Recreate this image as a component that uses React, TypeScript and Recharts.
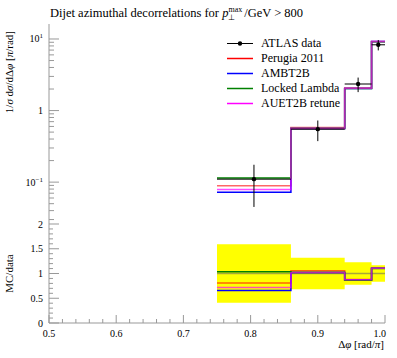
import React from 'react';
import { ComposedChart, Line, Scatter, Area, XAxis, YAxis, ErrorBar, Legend, Label } from 'recharts';

// histogram binning in delta phi [rad/pi]
const binEdges = [0.75, 0.86, 0.94, 0.98, 1.0];
const binCentres = [0.805, 0.9, 0.96, 0.99];

// ATLAS measurement and its uncertainty
const atlasData = [0.11, 0.55, 2.35, 8.3];
const atlasErr = [0.065, 0.176, 0.54, 1.37];

// MC predictions
const perugia2011 = [0.089, 0.58, 2.07, 9.2];
const ambt2b = [0.072, 0.56, 2.04, 9.2];
const lockedLambda = [0.114, 0.56, 2.03, 9.15];
const auet2bRetune = [0.079, 0.56, 2.05, 9.2];

// axis ticks
const xTicks = [0.5, 0.52, 0.54, 0.56, 0.58, 0.6, 0.62, 0.64, 0.66, 0.68, 0.7, 0.72, 0.74, 0.76, 0.78, 0.8,
  0.82, 0.84, 0.86, 0.88, 0.9, 0.92, 0.94, 0.96, 0.98, 1.0];
const xLabels = ['0.5', '0.6', '0.7', '0.8', '0.9', '1.0'];
const yMainTicks = [0.03, 0.04, 0.05, 0.06, 0.07, 0.08, 0.09, 0.1, 0.2, 0.3, 0.4, 0.5, 0.6, 0.7, 0.8, 0.9,
  1, 2, 3, 4, 5, 6, 7, 8, 9, 10];
const ratioTicks = [0, 0.1, 0.2, 0.3, 0.4, 0.5, 0.6, 0.7, 0.8, 0.9, 1, 1.1, 1.2, 1.3, 1.4, 1.5, 1.6, 1.7,
  1.8, 1.9, 2];
const ratioLabels = ['0', '0.5', '1', '1.5', '2'];

const FONT = '"Liberation Serif", serif';
const FRAME = '#999';

// draw order: red under blue/green, magenta semi-transparent on top
const mcSeries = [
  { name: 'Perugia 2011', values: perugia2011, color: '#ff0000', opacity: 0.6 },
  { name: 'AMBT2B', values: ambt2b, color: '#0000ff', opacity: 1 },
  { name: 'Locked Lambda', values: lockedLambda, color: '#008000', opacity: 1 },
  { name: 'AUET2B retune', values: auet2bRetune, color: '#ff00ff', opacity: 0.7 },
];
const legendItems = [
  { name: 'ATLAS data', color: '#000', marker: true },
  { name: 'Perugia 2011', color: '#ff0000', marker: false },
  { name: 'AMBT2B', color: '#0000ff', marker: false },
  { name: 'Locked Lambda', color: '#008000', marker: false },
  { name: 'AUET2B retune', color: '#ff00ff', marker: false },
];

const last = binCentres.length - 1;
const stepData = (vals: number[]) => binEdges.map((x, i) => ({ x, v: vals[Math.min(i, last)] }));
const ratioData = (vals: number[]) =>
  binEdges.map((x, i) => ({ x, v: vals[Math.min(i, last)] / atlasData[Math.min(i, last)] }));
const bandData = binEdges.map((x, i) => {
  const k = Math.min(i, last);
  const r = atlasErr[k] / atlasData[k];
  return { x, band: [1 - r, 1 + r] };
});
const unityData = binEdges.map((x) => ({ x, v: 1 }));
const dataPoints = binCentres.map((x, i) => ({
  x,
  y: atlasData[i],
  yErr: atlasErr[i],
  xErr: [x - binEdges[i], binEdges[i + 1] - x],
}));

const near = (a: number, b: number) => Math.abs(a - b) < 1e-6;

const renderXTick = (side: 'top' | 'bottom', withLabels: boolean) => (p: any) => {
  const v = p.payload.value;
  const major = near(v * 10, Math.round(v * 10));
  const len = major ? 8 : 4;
  const dir = side === 'bottom' ? -1 : 1;
  const isLast = near(v, 1);
  return (
    <g>
      <line x1={p.x} x2={p.x} y1={p.y} y2={p.y + dir * len} stroke={FRAME} />
      {withLabels && major && xLabels.includes(v.toFixed(1)) ? (
        <text x={isLast ? p.x + 1 : p.x} y={p.y + 14} textAnchor={isLast ? 'end' : 'middle'} fontSize={10}
          fontFamily={FONT} fill="#000">
          {v.toFixed(1)}
        </text>
      ) : null}
    </g>
  );
};

const renderLogTick = (side: 'left' | 'right') => (p: any) => {
  const v = p.payload.value;
  const lg = Math.log10(v);
  const major = near(lg, Math.round(lg));
  const len = major ? 10 : 5;
  const dir = side === 'left' ? 1 : -1;
  let label: React.ReactNode = null;
  if (side === 'left' && major) {
    const e = Math.round(lg);
    label = (
      <text x={p.x - 6} y={p.y + 3.5} textAnchor="end" fontSize={10} fontFamily={FONT} fill="#000">
        {e === 0 ? '1' : (
          <>
            <tspan>10</tspan>
            <tspan dy={-4} fontSize={7}>{e === 1 ? '1' : '\u22121'}</tspan>
          </>
        )}
      </text>
    );
  }
  return (
    <g>
      <line x1={p.x} x2={p.x + dir * len} y1={p.y} y2={p.y} stroke={FRAME} />
      {label}
    </g>
  );
};

const renderRatioTick = (side: 'left' | 'right') => (p: any) => {
  const v = p.payload.value;
  const major = near(v * 2, Math.round(v * 2));
  const len = major ? 10 : 4;
  const dir = side === 'left' ? 1 : -1;
  const txt = String(v);
  return (
    <g>
      <line x1={p.x} x2={p.x + dir * len} y1={p.y} y2={p.y} stroke={FRAME} />
      {side === 'left' && major && ratioLabels.includes(txt) ? (
        <text x={p.x - 6} y={p.y + 3.5} textAnchor="end" fontSize={10} fontFamily={FONT} fill="#000">
          {txt}
        </text>
      ) : null}
    </g>
  );
};

const DataDot = (p: any) => <circle cx={p.cx} cy={p.cy} r={2.2} fill="#000" />;

const LegendBox = () => (
  <div style={{ fontFamily: FONT, fontSize: 12, lineHeight: '15px' }}>
    {legendItems.map((it) => (
      <div key={it.name} style={{ display: 'flex', alignItems: 'center', height: 15, whiteSpace: 'nowrap' }}>
        <svg width={34} height={15} style={{ flex: 'none' }}>
          <line x1={0} x2={26} y1={7.5} y2={7.5} stroke={it.color} strokeWidth={it.marker ? 1 : 1.5} />
          {it.marker ? <circle cx={13} cy={7.5} r={2.2} fill="#000" /> : null}
        </svg>
        <span>{it.name}</span>
      </div>
    ))}
  </div>
);

const axisCommon = {
  tickSize: 0,
  tickMargin: 0,
  tickLine: false,
  interval: 0 as const,
  allowDataOverflow: true,
  axisLine: { stroke: FRAME },
};

export default function App() {
  return (
    <div style={{ position: 'absolute', left: 0, top: 0, width: 397, height: 358, background: '#fff' }}>
      <div style={{ position: 'absolute', left: 0, top: 0 }}>
        <ComposedChart width={397} height={232} margin={{ top: 24, right: 12, bottom: 8, left: 0 }}>
          <XAxis xAxisId="b" dataKey="x" type="number" domain={[0.5, 1]} ticks={xTicks} height={0}
            tick={renderXTick('bottom', false)} {...axisCommon} />
          <XAxis xAxisId="t" orientation="top" dataKey="x" type="number" domain={[0.5, 1]} ticks={xTicks}
            height={0} tick={renderXTick('top', false)} {...axisCommon} />
          <YAxis yAxisId="l" scale="log" domain={[0.026, 16.2]} ticks={yMainTicks} width={49}
            tick={renderLogTick('left')} {...axisCommon}>
            <Label content={() => (
              <g>
                <text x={13} y={31} transform="rotate(-90 13 31)" textAnchor="end" fontSize={11} fontFamily={FONT} fill="#000">
                  1/<tspan fontStyle="italic">{'\u03c3'}</tspan> d<tspan fontStyle="italic">{'\u03c3'}</tspan>/dΔ<tspan fontStyle="italic">{'\u03c6'}</tspan> [<tspan fontStyle="italic">{'\u03c0'}</tspan>/rad]
                </text>
                <text x={50} y={17} fontSize={12.5} fontFamily={FONT} fill="#000">
                  Dijet azimuthal decorrelations for{' '}
                  <tspan fontStyle="italic">p</tspan>
                  <tspan dy={-5} fontSize={8}>max</tspan>
                  <tspan dx={-14} dy={8} fontSize={8}>{'\u22a5'}</tspan>
                  <tspan dx={9} dy={-3}>/GeV &gt; 800</tspan>
                </text>
              </g>
            )} />
          </YAxis>
          <YAxis yAxisId="r" orientation="right" scale="log" domain={[0.026, 16.2]} ticks={yMainTicks} width={0}
            tick={renderLogTick('right')} {...axisCommon} />
          {mcSeries.map((s) => (
            <Line key={s.name} xAxisId="b" yAxisId="l" data={stepData(s.values)} dataKey="v" type="stepAfter"
              stroke={s.color} strokeOpacity={s.opacity} strokeWidth={1.5} dot={false} activeDot={false}
              isAnimationActive={false} legendType="none" />
          ))}
          <Scatter xAxisId="b" yAxisId="l" data={dataPoints} dataKey="y" shape={DataDot} isAnimationActive={false}
            legendType="none">
            <ErrorBar dataKey="yErr" direction="y" width={0} stroke="#000" strokeWidth={1} isAnimationActive={false} />
            <ErrorBar dataKey="xErr" direction="x" width={0} stroke="#000" strokeWidth={1} isAnimationActive={false} />
          </Scatter>
          <Legend layout="vertical" align="center" verticalAlign="middle" content={<LegendBox />}
            wrapperStyle={{ position: 'absolute', left: 227, top: 36, width: 165 }} />
        </ComposedChart>
      </div>
      <div style={{ position: 'absolute', left: 0, top: 214 }}>
        <ComposedChart width={397} height={144} margin={{ top: 10, right: 12, bottom: 0, left: 0 }}>
          <XAxis xAxisId="b" dataKey="x" type="number" domain={[0.5, 1]} ticks={xTicks} height={35}
            tick={renderXTick('bottom', true)} {...axisCommon}>
            <Label content={() => (
              <text x={384} y={134} textAnchor="end" fontSize={11} fontFamily={FONT} fill="#000">
                Δ<tspan fontStyle="italic">{'\u03c6'}</tspan> [rad/<tspan fontStyle="italic">{'\u03c0'}</tspan>]
              </text>
            )} />
          </XAxis>
          <XAxis xAxisId="t" orientation="top" dataKey="x" type="number" domain={[0.5, 1]} ticks={xTicks}
            height={0} tick={renderXTick('top', false)} {...axisCommon} />
          <YAxis yAxisId="l" type="number" domain={[0, 2]} ticks={ratioTicks} width={49}
            tick={renderRatioTick('left')} {...axisCommon}>
            <Label content={() => (
              <text x={13} y={59.5} transform="rotate(-90 13 59.5)" textAnchor="middle" fontSize={11} fontFamily={FONT} fill="#000">
                MC/data
              </text>
            )} />
          </YAxis>
          <YAxis yAxisId="r" orientation="right" type="number" domain={[0, 2]} ticks={ratioTicks} width={0}
            tick={renderRatioTick('right')} {...axisCommon} />
          <Area xAxisId="b" yAxisId="l" data={bandData} dataKey="band" type="stepAfter" stroke="none"
            fill="#ffff00" fillOpacity={1} isAnimationActive={false} legendType="none" />
          <Line xAxisId="b" yAxisId="l" data={unityData} dataKey="v" type="stepAfter" stroke="#a8a838"
            strokeWidth={1.5} dot={false} activeDot={false} isAnimationActive={false} legendType="none" />
          {mcSeries.map((s) => (
            <Line key={s.name} xAxisId="b" yAxisId="l" data={ratioData(s.values)} dataKey="v" type="stepAfter"
              stroke={s.color} strokeOpacity={s.opacity} strokeWidth={1.5} dot={false} activeDot={false}
              isAnimationActive={false} legendType="none" />
          ))}
        </ComposedChart>
      </div>
    </div>
  );
}
